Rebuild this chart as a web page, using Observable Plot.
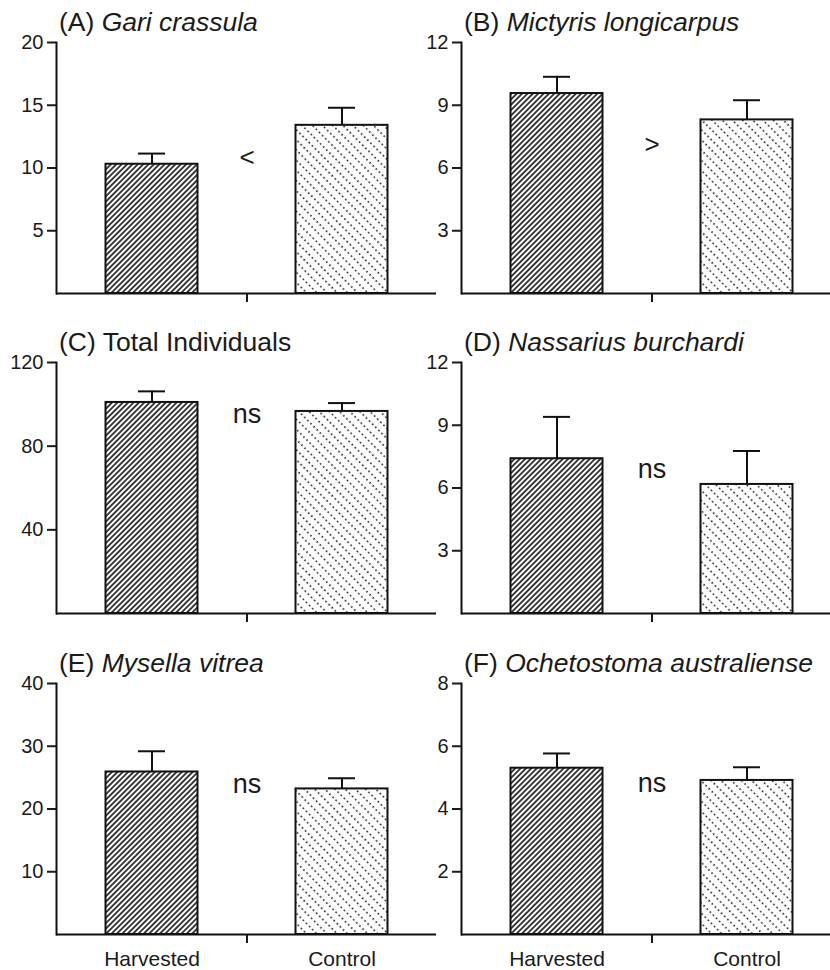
<!DOCTYPE html>
<html>
<head>
<meta charset="utf-8">
<script src="https://cdn.jsdelivr.net/npm/d3@7"></script>
<script src="https://cdn.jsdelivr.net/npm/@observablehq/plot@0.6"></script>
<style>
  html, body { margin: 0; padding: 0; background: #fff; }
  body { width: 830px; height: 970px; overflow: hidden; position: relative; font-family: "Liberation Sans", Arial, Helvetica, sans-serif; color: #1a1a1a; }
  .panel { position: absolute; width: 436px; height: 340px; }
  .title { position: absolute; font-size: 26.5px; line-height: 26px; white-space: nowrap; color: #1a1a1a; }
  .title i { font-style: italic; }
  .plotbox { position: absolute; width: 436px; height: 301px; }
  .plotbox svg { max-width: none !important; }
</style>
</head>
<body>
<svg width="0" height="0" style="position:absolute">
  <defs>
    <pattern id="hatchH" patternUnits="userSpaceOnUse" width="3.8" height="3.8" patternTransform="rotate(45)">
      <rect width="3.8" height="3.8" fill="#fff"></rect>
      <line x1="1" y1="-1" x2="1" y2="5" stroke="#1e1e1e" stroke-width="1.7"></line>
    </pattern>
    <pattern id="dotsC" patternUnits="userSpaceOnUse" width="7.2" height="4.4" patternTransform="rotate(-45)">
      <rect width="7.2" height="4.4" fill="#fff"></rect>
      <circle cx="3.6" cy="2.2" r="0.95" fill="#1e1e1e"></circle>
    </pattern>
  </defs>
</svg>
<div id="root"></div>
<div id="err" style="position:absolute;left:0;top:0;font:12px monospace;color:red"></div>
<script>
// ---- data ----
const groups = ["Harvested", "Control"];
const panelLetters = ["(A)", "(B)", "(C)", "(D)", "(E)", "(F)"];
const panelNames = ["Gari crassula", "Mictyris longicarpus", "Total Individuals", "Nassarius burchardi", "Mysella vitrea", "Ochetostoma australiense"];
const panelItalic = [true, true, false, true, true, true];
const harvestedMean = [10.3, 9.56, 100.9, 7.4, 25.9, 5.3];
const harvestedSE = [0.85, 0.8, 5.3, 2.0, 3.3, 0.47];
const controlMean = [13.4, 8.3, 96.6, 6.17, 23.2, 4.91];
const controlSE = [1.4, 0.94, 4.0, 1.6, 1.7, 0.42];
const yMax = [20, 12, 120, 12, 40, 8];
const yTicks = [[5, 10, 15, 20], [3, 6, 9, 12], [40, 80, 120], [3, 6, 9, 12], [10, 20, 30, 40], [2, 4, 6, 8]];
const comparison = ["<", ">", "ns", "ns", "ns", "ns"];
const comparisonY = [10.8, 7.1, 95, 6.9, 24, 4.83];

// ---- layout ----
const MID = " ";
const colLeft = [0, 405];
const rowTop = [0, 320, 641];
const root = document.getElementById("root");
const font = '"Liberation Sans", Arial, Helvetica, sans-serif';

try {
for (let i = 0; i < 6; i++) {
  const col = i % 2, row = Math.floor(i / 2);
  const isBottom = row === 2;
  const marginLeft = 56;
  const panel = document.createElement("div");
  panel.className = "panel";
  panel.style.left = colLeft[col] + "px";
  panel.style.top = rowTop[row] + "px";

  const title = document.createElement("div");
  title.className = "title";
  title.style.left = (marginLeft + 3) + "px";
  title.style.top = "9px";
  title.innerHTML = panelLetters[i] + " " + (panelItalic[i] ? "<i>" + panelNames[i] + "</i>" : panelNames[i]);
  panel.appendChild(title);

  const rows = [
    {group: groups[0], mean: harvestedMean[i], se: harvestedSE[i]},
    {group: groups[1], mean: controlMean[i], se: controlSE[i]}
  ];
  const note = [{label: comparison[i], y: comparisonY[i], x: MID}];

  const marks = [
    Plot.barY(rows.filter(d => d.group === groups[0]), {x: "group", y: "mean", fill: "url(#hatchH)", stroke: "#111", strokeWidth: 2, insetLeft: 1.5, insetRight: 1.5}),
    Plot.barY(rows.filter(d => d.group === groups[1]), {x: "group", y: "mean", fill: "url(#dotsC)", stroke: "#111", strokeWidth: 2, insetLeft: 1.5, insetRight: 1.5}),
    Plot.ruleX(rows, {x: "group", y1: "mean", y2: d => d.mean + d.se, stroke: "#111", strokeWidth: 2}),
    Plot.tickY(rows, {x: "group", y: d => d.mean + d.se, stroke: "#111", strokeWidth: 2, insetLeft: 34, insetRight: 34}),
    Plot.text(note, {x: "x", y: "y", text: "label", fontSize: comparison[i] === "ns" ? 27 : 26, fill: "#1a1a1a"}),
    Plot.axisY({ticks: yTicks[i], tickSize: 9, tickPadding: 4, fontSize: 20, strokeWidth: 2, label: null}),
    Plot.axisX({ticks: [MID], tickSize: 9, tickFormat: () => "", strokeWidth: 2, label: null}),
    Plot.ruleY([0], {stroke: "#111", strokeWidth: 2}),
    Plot.frame({anchor: "left", stroke: "#111", strokeWidth: 2})
  ];
  if (isBottom) {
    marks.push(Plot.axisX({ticks: groups, tickSize: 0, tickPadding: 17, fontSize: 21, label: null}));
  }

  const chart = Plot.plot({
    width: marginLeft + 380,
    height: 301,
    marginLeft,
    marginRight: 0,
    marginTop: 10,
    marginBottom: 40,
    x: {type: "band", domain: [groups[0], MID, groups[1]], paddingInner: 0, paddingOuter: 0.5, label: null},
    y: {domain: [0, yMax[i]], label: null},
    style: {fontFamily: font, fontSize: "20px", color: "#1a1a1a", background: "transparent", overflow: "visible", maxWidth: "none"},
    marks
  });
  const box = document.createElement("div");
  box.className = "plotbox";
  box.style.left = "0px";
  box.style.top = "32px";
  box.appendChild(chart);
  panel.appendChild(box);
  root.appendChild(panel);
}
} catch (e) {
  document.getElementById("err").textContent = "ERROR: " + e.message;
}
</script>
</body>
</html>
